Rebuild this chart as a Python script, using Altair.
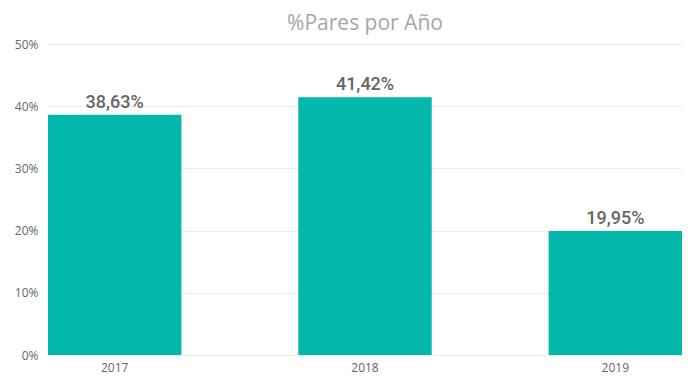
import altair as alt
import pandas as pd

years = ["2017", "2018", "2019"]
values = [38.63, 41.42, 19.95]
labels = ["38,63%", "41,42%", "19,95%"]

df = pd.DataFrame({"year": years, "value": values, "label": labels})

x = alt.X("year:N", title=None, sort=years,
          scale=alt.Scale(paddingInner=0.467, paddingOuter=0),
          axis=alt.Axis(labelAngle=0, domain=False, ticks=False, labelPadding=7,
                        labelColor="#666666", labelFontSize=12, labelFont="Open Sans"))
y = alt.Y("value:Q", title=None, scale=alt.Scale(domain=[0, 50], nice=False),
          axis=alt.Axis(values=[0, 10, 20, 30, 40, 50], labelExpr="datum.value + '%'",
                        domain=False, ticks=False, labelPadding=10, grid=True,
                        gridColor="#ebebeb", gridWidth=1,
                        labelColor="#666666", labelFontSize=12, labelFont="Open Sans"))

bars = alt.Chart(df).mark_bar(color="#01B8AA").encode(x=x, y=y)
text = alt.Chart(df).mark_text(baseline="bottom", dy=-3, fontSize=18, color="#666666",
                               font="Roboto", fontWeight=500).encode(
    x=alt.X("year:N", sort=years), y="value:Q", text="label:N")

chart = (bars + text).properties(
    width=634, height=311,
    title=alt.TitleParams("%Pares por Año", fontSize=21, color="#a6a6a6", font="Open Sans",
                          fontWeight="normal", anchor="middle", offset=4),
    autosize=alt.AutoSizeParams(type="none"),
    padding={"left": 40, "top": 36, "right": 0, "bottom": 22},
).configure_view(stroke=None)

chart.save("out.html", embed_options={"renderer": "svg", "actions": False})
